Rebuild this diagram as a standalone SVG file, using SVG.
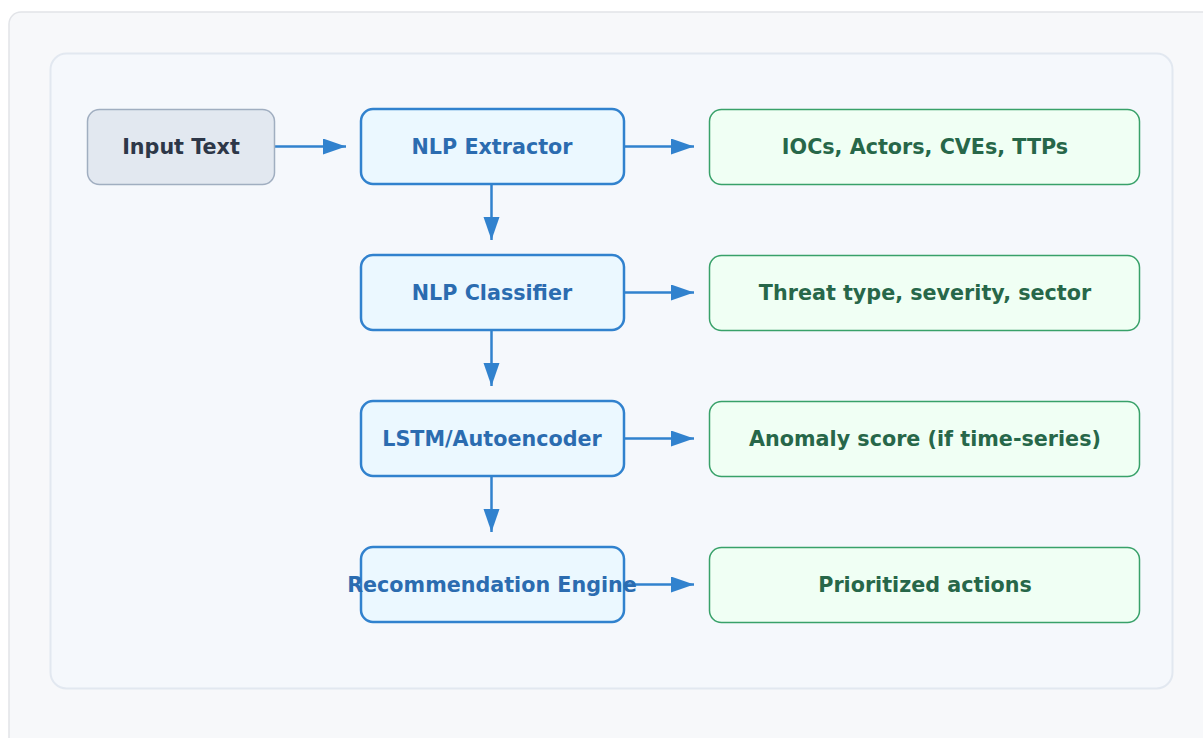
<svg xmlns="http://www.w3.org/2000/svg" width="1203" height="738" viewBox="0 0 1203 738">
<style>
.t{font-family:"DejaVu Sans",sans-serif;font-weight:bold;font-size:20.7px;text-anchor:middle;dominant-baseline:central}
.in rect{fill:#e2e8f0;stroke:#a0aec0;stroke-width:1.5}
.in text{fill:#2d3748}
.b rect{fill:#ebf8ff;stroke:#3182ce;stroke-width:2.5}
.b text{fill:#2b6cb0}
.g rect{fill:#f0fff4;stroke:#38a169;stroke-width:1.5}
.g text{fill:#276749}
.c line{stroke:#3182ce;stroke-width:2.5}
</style>
<defs>
<marker id="ah" markerUnits="userSpaceOnUse" markerWidth="24" markerHeight="18" refX="23" refY="8" orient="auto">
<path d="M0,0 L23,8 L0,16 Z" fill="#3182ce"/>
</marker>
</defs>
<rect x="9" y="12" width="1210" height="740" rx="12" fill="#f7f8fa" stroke="#e2e4e8" stroke-width="1.5"/>
<rect x="50.5" y="53.5" width="1122" height="635" rx="16" fill="#f5f8fc" stroke="#e2e8f0" stroke-width="2"/>
<g class="c">
<line x1="275" y1="146.5" x2="346" y2="146.5" marker-end="url(#ah)"/>
<line x1="624" y1="146.5" x2="694" y2="146.5" marker-end="url(#ah)"/>
<line x1="624" y1="292.5" x2="694" y2="292.5" marker-end="url(#ah)"/>
<line x1="624" y1="438.5" x2="694" y2="438.5" marker-end="url(#ah)"/>
<line x1="624" y1="584.5" x2="694" y2="584.5" marker-end="url(#ah)"/>
<line x1="491.5" y1="184" x2="491.5" y2="240" marker-end="url(#ah)"/>
<line x1="491.5" y1="330" x2="491.5" y2="386" marker-end="url(#ah)"/>
<line x1="491.5" y1="476" x2="491.5" y2="532" marker-end="url(#ah)"/>
</g>
<g id="input" class="in"><rect x="87.5" y="109.5" width="187" height="75" rx="12"/><text class="t" x="181" y="147">Input Text</text></g>
<g id="extractor" class="b"><rect x="361" y="109" width="263" height="75" rx="12"/><text class="t" x="492" y="147">NLP Extractor</text></g>
<g id="classifier" class="b"><rect x="361" y="255" width="263" height="75" rx="12"/><text class="t" x="492" y="293">NLP Classifier</text></g>
<g id="lstm" class="b"><rect x="361" y="401" width="263" height="75" rx="12"/><text class="t" x="492" y="439">LSTM/Autoencoder</text></g>
<g id="recommend" class="b"><rect x="361" y="547" width="263" height="75" rx="12"/><text class="t" x="492" y="585">Recommendation Engine</text></g>
<g id="iocs" class="g"><rect x="709.5" y="109.5" width="430" height="75" rx="12"/><text class="t" x="925" y="147">IOCs, Actors, CVEs, TTPs</text></g>
<g id="threat" class="g"><rect x="709.5" y="255.5" width="430" height="75" rx="12"/><text class="t" x="925" y="293">Threat type, severity, sector</text></g>
<g id="anomaly" class="g"><rect x="709.5" y="401.5" width="430" height="75" rx="12"/><text class="t" x="925" y="439">Anomaly score (if time-series)</text></g>
<g id="actions" class="g"><rect x="709.5" y="547.5" width="430" height="75" rx="12"/><text class="t" x="925" y="585">Prioritized actions</text></g>
</svg>
